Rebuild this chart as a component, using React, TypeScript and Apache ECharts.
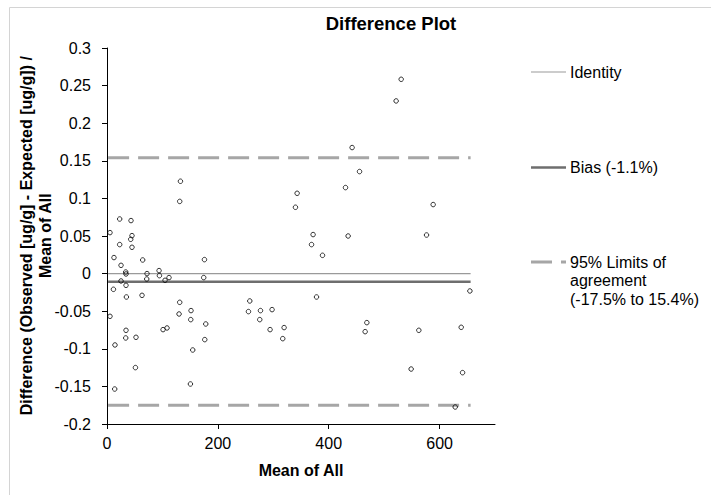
import React, { useEffect, useRef } from "react";
import * as echarts from "echarts";

// Scatter data: mean of all (x) and relative difference (y)
const meanOfAll = [
  5.4, 45.1, 42.8, 22.9, 45.1, 12.6, 64.4, 175.8, 25.3, 33.8,
  34.3, 72.2, 93.9, 94.6, 25.3, 71.7, 104.7, 111.9, 174.5, 11.6,
  34.3, 35, 63.2, 131.2, 130, 151.6, 151.1, 178.2, 176.4, 154.7,
  150.5, 5.4, 34.3, 33.8, 52.3, 14.4, 101.1, 108.3, 51.3, 13.9,
  22.9, 43.3, 132.5, 131.2, 343, 340, 530.7, 521.6, 442.2, 455.6,
  430.3, 588.4, 371.8, 435, 576.5, 369, 388.8, 378, 654.7, 468.8,
  465.7, 562.6, 639, 548.7, 641.5, 628.2, 255.2, 257.6, 276.9, 275.6,
  297.8, 294.2, 319.5, 317.1,
];
const difference = [
  0.0545, 0.0505, 0.0456, 0.0386, 0.035, 0.0213, 0.0181, 0.0186, 0.011, 0.0021,
  -0.0005, 0.0, 0.004, -0.0027, -0.0098, -0.0072, -0.0089, -0.0053, -0.0053, -0.0209,
  -0.0156, -0.0311, -0.0289, -0.0382, -0.0537, -0.0492, -0.0612, -0.067, -0.0878, -0.1016,
  -0.1468, -0.0568, -0.0754, -0.0856, -0.0847, -0.0949, -0.0745, -0.0723, -0.125, -0.1535,
  0.0726, 0.0705, 0.1228, 0.096, 0.1068, 0.0882, 0.2584, 0.2296, 0.1676, 0.1357,
  0.1144, 0.0918, 0.0519, 0.05, 0.0513, 0.0386, 0.0243, -0.0311, -0.0231, -0.0652,
  -0.0772, -0.0754, -0.0714, -0.1269, -0.1317, -0.1774, -0.0505, -0.0364, -0.0492, -0.0612,
  -0.0479, -0.0745, -0.0718, -0.0865,
];

// Reference lines
const lineXRange = [2, 656];
const identityValue = 0;
const biasValue = -0.011;
const limitLow = -0.175;
const limitHigh = 0.154;

// Axes ticks
const xTicks = [0, 200, 400, 600];
const yTicks = [-0.2, -0.15, -0.1, -0.05, 0, 0.05, 0.1, 0.15, 0.2, 0.25, 0.3];

// Legend labels
const legendLabels = ["Identity", "Bias (-1.1%)", "95% Limits of\nagreement\n(-17.5% to 15.4%)"];

const FONT = "'Liberation Sans', Arial, sans-serif";

export default function App() {
  const ref = useRef<HTMLDivElement>(null);
  useEffect(() => {
    if (!ref.current) return;
    const chart = echarts.init(ref.current, undefined, { renderer: "svg" });
    const hline = (v: number) => lineXRange.map((x) => [x, v]);
    const points = meanOfAll.map((x, i) => [x, difference[i]]);
    const legendX0 = 531;
    const legendX1 = 566;
    const textX = 570;
    const lgY = [72, 167.5, 262];
    chart.setOption({
      animation: false,
      textStyle: { fontFamily: FONT },
      grid: { left: 107, top: 48, width: 388, height: 376 },
      xAxis: {
        type: "value",
        min: 0,
        max: 700,
        interval: 200,
        splitLine: { show: false },
        axisLine: { show: true, onZero: false, lineStyle: { color: "#000", width: 1 } },
        axisTick: { show: true, length: 5, lineStyle: { color: "#000" }, customValues: xTicks },
        axisLabel: { color: "#000", fontSize: 16, fontFamily: FONT, margin: 11, customValues: xTicks },
      },
      yAxis: {
        type: "value",
        min: yTicks[0],
        max: yTicks[yTicks.length - 1],
        interval: 0.05,
        splitLine: { show: false },
        axisLine: { show: true, onZero: false, lineStyle: { color: "#000", width: 1 } },
        axisTick: { show: true, length: 5, lineStyle: { color: "#000" } },
        axisLabel: {
          color: "#000",
          fontSize: 16,
          fontFamily: FONT,
          margin: 16,
          formatter: (v: number) => String(+v.toFixed(2)),
        },
      },
      series: [
        {
          name: "Identity",
          type: "line",
          data: hline(identityValue),
          symbol: "none",
          lineStyle: { color: "#9a9a9a", width: 1.2 },
          z: 2,
        },
        {
          name: "Bias",
          type: "line",
          data: hline(biasValue),
          symbol: "none",
          lineStyle: { color: "#6e6e6e", width: 2.5 },
          z: 2,
        },
        {
          name: "Upper limit",
          type: "line",
          data: hline(limitHigh),
          symbol: "none",
          lineStyle: { color: "#a6a6a6", width: 3, type: [21, 9] },
          z: 2,
        },
        {
          name: "Lower limit",
          type: "line",
          data: hline(limitLow),
          symbol: "none",
          lineStyle: { color: "#a6a6a6", width: 3, type: [21, 9] },
          z: 2,
        },
        {
          name: "Data",
          type: "scatter",
          data: points,
          symbol: "circle",
          symbolSize: 4.5,
          itemStyle: { color: "rgba(255,255,255,0)", borderColor: "#000", borderWidth: 1 },
          z: 5,
        },
      ],
      graphic: [
        {
          type: "rect",
          shape: { x: 9.5, y: 7.5, width: 720, height: 520 },
          style: { fill: "none", stroke: "#d4d4d4", lineWidth: 1 },
          silent: true,
        },
        {
          type: "text",
          x: 391,
          y: 23,
          style: {
            text: "Difference Plot",
            font: `bold 18.5px ${FONT}`,
            fill: "#000",
            textAlign: "center",
            textVerticalAlign: "middle",
          },
        },
        {
          type: "text",
          x: 36,
          y: 235.7,
          rotation: Math.PI / 2,
          style: {
            text: "Difference (Observed [ug/g] - Expected [ug/g]) /\nMean of All",
            font: `bold 16px ${FONT}`,
            fill: "#000",
            textAlign: "center",
            textVerticalAlign: "middle",
            lineHeight: 18.5,
          },
        },
        {
          type: "text",
          x: 301,
          y: 470,
          style: {
            text: "Mean of All",
            font: `bold 16px ${FONT}`,
            fill: "#000",
            textAlign: "center",
            textVerticalAlign: "middle",
          },
        },
        {
          type: "line",
          shape: { x1: legendX0, y1: lgY[0], x2: legendX1, y2: lgY[0] },
          style: { stroke: "#9a9a9a", lineWidth: 1.2 },
        },
        {
          type: "text",
          x: textX,
          y: lgY[0],
          style: { text: legendLabels[0], font: `16px ${FONT}`, fill: "#000", textVerticalAlign: "middle" },
        },
        {
          type: "line",
          shape: { x1: legendX0, y1: lgY[1], x2: legendX1, y2: lgY[1] },
          style: { stroke: "#6e6e6e", lineWidth: 2.5 },
        },
        {
          type: "text",
          x: textX,
          y: lgY[1],
          style: { text: legendLabels[1], font: `16px ${FONT}`, fill: "#000", textVerticalAlign: "middle" },
        },
        {
          type: "line",
          shape: { x1: legendX0, y1: lgY[2], x2: legendX1, y2: lgY[2] },
          style: { stroke: "#a6a6a6", lineWidth: 3, lineDash: [21, 9] },
        },
        {
          type: "text",
          x: textX,
          y: lgY[2] - 9,
          style: {
            text: legendLabels[2],
            font: `16px ${FONT}`,
            fill: "#000",
            textVerticalAlign: "top",
            lineHeight: 18.5,
          },
        },
      ],
    });
    return () => chart.dispose();
  }, []);
  return (
    <div
      ref={ref}
      style={{ position: "absolute", left: 0, top: 0, width: 711, height: 495, background: "#fff" }}
    />
  );
}
